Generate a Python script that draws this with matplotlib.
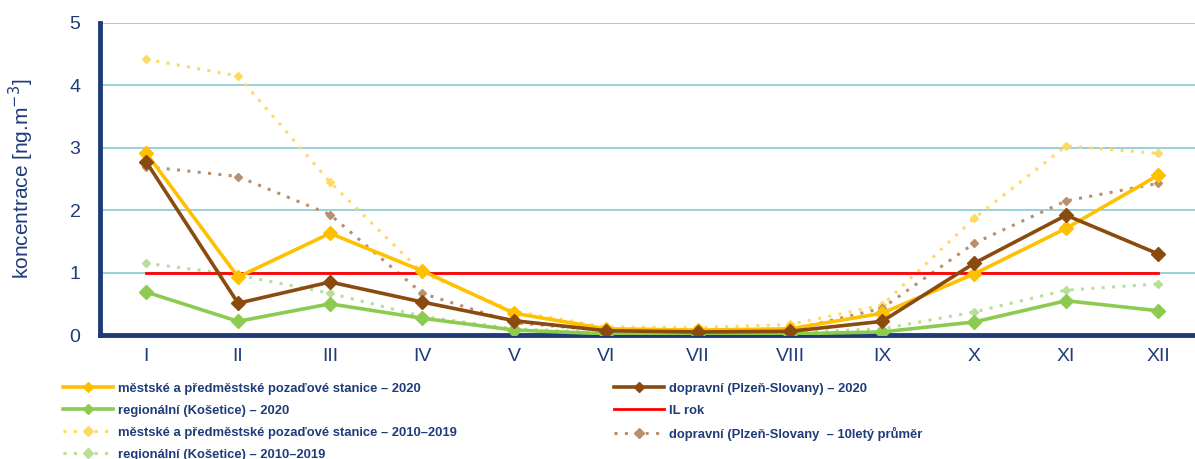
import matplotlib
matplotlib.use("Agg")
import matplotlib.pyplot as plt
from matplotlib.lines import Line2D
from matplotlib import font_manager

months = ["I", "II", "III", "IV", "V", "VI", "VII", "VIII", "IX", "X", "XI", "XII"]
urban_2020 = [2.92, 0.93, 1.63, 1.03, 0.35, 0.10, 0.08, 0.10, 0.35, 0.98, 1.71, 2.56]
traffic_2020 = [2.78, 0.51, 0.85, 0.53, 0.23, 0.07, 0.05, 0.06, 0.22, 1.15, 1.92, 1.30]
regional_2020 = [0.69, 0.22, 0.50, 0.27, 0.08, 0.02, 0.01, 0.02, 0.05, 0.21, 0.55, 0.39]
urban_10y = [4.42, 4.15, 2.45, 1.00, 0.38, 0.13, 0.12, 0.17, 0.48, 1.87, 3.03, 2.91]
traffic_10y = [2.70, 2.54, 1.93, 0.67, 0.20, 0.07, 0.06, 0.08, 0.43, 1.47, 2.15, 2.43]
regional_10y = [1.15, 0.96, 0.67, 0.30, 0.10, 0.04, 0.03, 0.04, 0.10, 0.37, 0.72, 0.82]
limit_value = [1.0] * 12

labels = [
    "městské a předměstské pozaďové stanice – 2020",
    "regionální (Košetice) – 2020",
    "městské a předměstské pozaďové stanice – 2010–2019",
    "regionální (Košetice) – 2010–2019",
    "dopravní (Plzeň-Slovany) – 2020",
    "IL rok",
    "dopravní (Plzeň-Slovany  – 10letý průměr",
]

plt.rcParams['font.family'] = ['Liberation Sans', 'DejaVu Sans']
navy = "#1F3B7A"

installed = {f.name for f in font_manager.fontManager.ttflist}
if "Liberation Sans Narrow" in installed:
    leg_family, leg_size = "Liberation Sans Narrow", 11.5
else:
    leg_family, leg_size = "Liberation Sans", 9.4

fig = plt.figure(figsize=(11.95, 4.59), dpi=100)
ax = fig.add_axes([0.0837, 0.27, 0.924, 0.68])

x = list(range(len(months)))
dots = (0, (1, 2.4))

h_u10, = ax.plot(x, urban_10y, color="#FFD966", lw=2.2, ls=dots, marker="D", ms=4.5, zorder=2)
h_t10, = ax.plot(x, traffic_10y, color="#B8906E", lw=2.2, ls=dots, marker="D", ms=4.5, zorder=2)
h_r10, = ax.plot(x, regional_10y, color="#B9DE98", lw=2.2, ls=dots, marker="D", ms=4.5, zorder=2)
h_il, = ax.plot(x, limit_value, color="#FF0000", lw=2, zorder=3)
h_r20, = ax.plot(x, regional_2020, color="#8CCB50", lw=2.6, marker="D", ms=7, zorder=4)
h_u20, = ax.plot(x, urban_2020, color="#FFC000", lw=2.6, marker="D", ms=7, zorder=5)
h_t20, = ax.plot(x, traffic_2020, color="#8B4A0E", lw=2.6, marker="D", ms=7, zorder=6)

ax.set_xlim(-0.5, 11.5)
ax.set_ylim(0, 5)
ax.set_yticks([0, 1, 2, 3, 4, 5])
ax.set_xticks(x)
ax.set_xticklabels(months)
ax.yaxis.grid(True, color="#86CAD6", lw=1.2)
ax.set_axisbelow(True)
for s in ["top", "right"]:
    ax.spines[s].set_visible(False)
for s in ["left", "bottom"]:
    ax.spines[s].set_color(navy)
    ax.spines[s].set_linewidth(3.5)
ax.tick_params(axis="both", length=0, colors=navy, labelsize=14)
ax.tick_params(axis="y", pad=14)
ax.tick_params(axis="x", pad=9)
ax.set_ylabel("koncentrace [ng.m$^{-3}$]", color=navy, fontsize=15, labelpad=24)

def proxy(h, dotted):
    if h.get_marker() in (None, "None", ""):
        return Line2D([0], [0], color=h.get_color(), lw=2)
    return Line2D([0], [0], color=h.get_color(), lw=h.get_linewidth(),
                  ls=dots if dotted else "-", marker="D", ms=5)

common = dict(frameon=False, handlelength=3.8, handletextpad=0.4, labelspacing=0.75,
              borderpad=0, borderaxespad=0, loc="upper left",
              prop=dict(family=leg_family, weight="bold", size=leg_size))
leg1 = fig.legend([proxy(h_u20, False), proxy(h_r20, False), proxy(h_u10, True), proxy(h_r10, True)],
                  labels[:4], bbox_to_anchor=(0.053, 0.166), **common)
leg2 = fig.legend([proxy(h_t20, False), proxy(h_il, False), proxy(h_t10, True)], labels[4:],
                  bbox_to_anchor=(0.514, 0.166), **common)
for lg in (leg1, leg2):
    for t in lg.get_texts():
        t.set_color(navy)

fig.savefig("out.png", dpi=100)
